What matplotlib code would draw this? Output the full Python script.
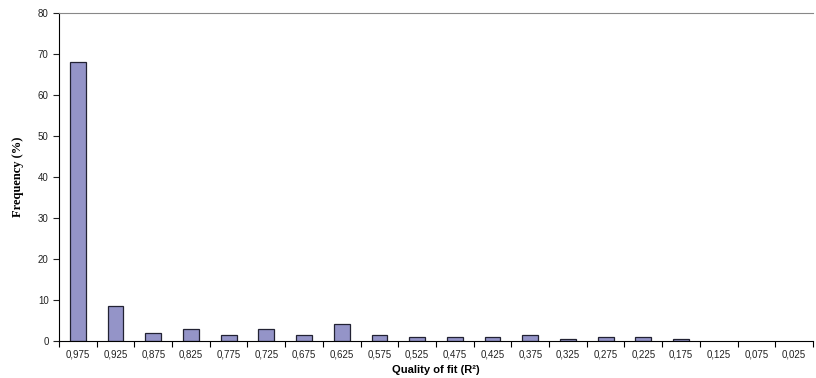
import numpy as np
import matplotlib.pyplot as plt

categories = ['0,975', '0,925', '0,875', '0,825', '0,775', '0,725', '0,675', '0,625', '0,575', '0,525',
              '0,475', '0,425', '0,375', '0,325', '0,275', '0,225', '0,175', '0,125', '0,075', '0,025']
frequency = [68.0, 8.5, 2.0, 3.0, 1.4, 3.0, 1.4, 4.1, 1.4, 0.9,
             0.9, 0.9, 1.4, 0.5, 0.9, 0.9, 0.5, 0, 0, 0]

fig = plt.figure(figsize=(8.16, 3.78), dpi=100)
ax = fig.add_axes([0.0723, 0.098, 0.924, 0.868])

x = np.arange(len(categories))
bars = ax.bar(x, frequency, width=0.42, color='#9494c8', edgecolor='#222233', linewidth=0.9)
# empty classes: no outline along the axis
for b in bars:
    if b.get_height() == 0:
        b.set_linewidth(0)

ax.set_xlim(-0.5, len(categories) - 0.5)
ax.set_ylim(0, 80)
ax.set_yticks(range(0, 81, 10))
ax.set_xticks(x)
ax.set_xticklabels(categories, fontsize=7, family='Liberation Sans', color='#222222')
ax.set_xticks(np.arange(-0.5, len(categories), 1), minor=True)
ax.tick_params(axis='x', which='major', length=0, pad=6)
ax.tick_params(axis='x', which='minor', length=4, direction='out', width=0.8)
ax.tick_params(axis='y', length=4, direction='out', width=0.8, labelsize=7, colors='#222222')
for lab in ax.get_yticklabels():
    lab.set_family('Liberation Sans')

ax.spines['right'].set_visible(False)
ax.spines['top'].set_color('#888888')
ax.spines['top'].set_linewidth(0.8)
ax.spines['left'].set_linewidth(0.8)
ax.spines['bottom'].set_linewidth(0.8)

ax.set_xlabel('Quality of fit (R²)', fontsize=8, fontweight='bold', family='Liberation Sans', labelpad=4)
ax.set_ylabel('Frequency (%)', fontsize=9, fontweight='bold', family='Liberation Serif', labelpad=10)

fig.savefig('out.png', dpi=100)
